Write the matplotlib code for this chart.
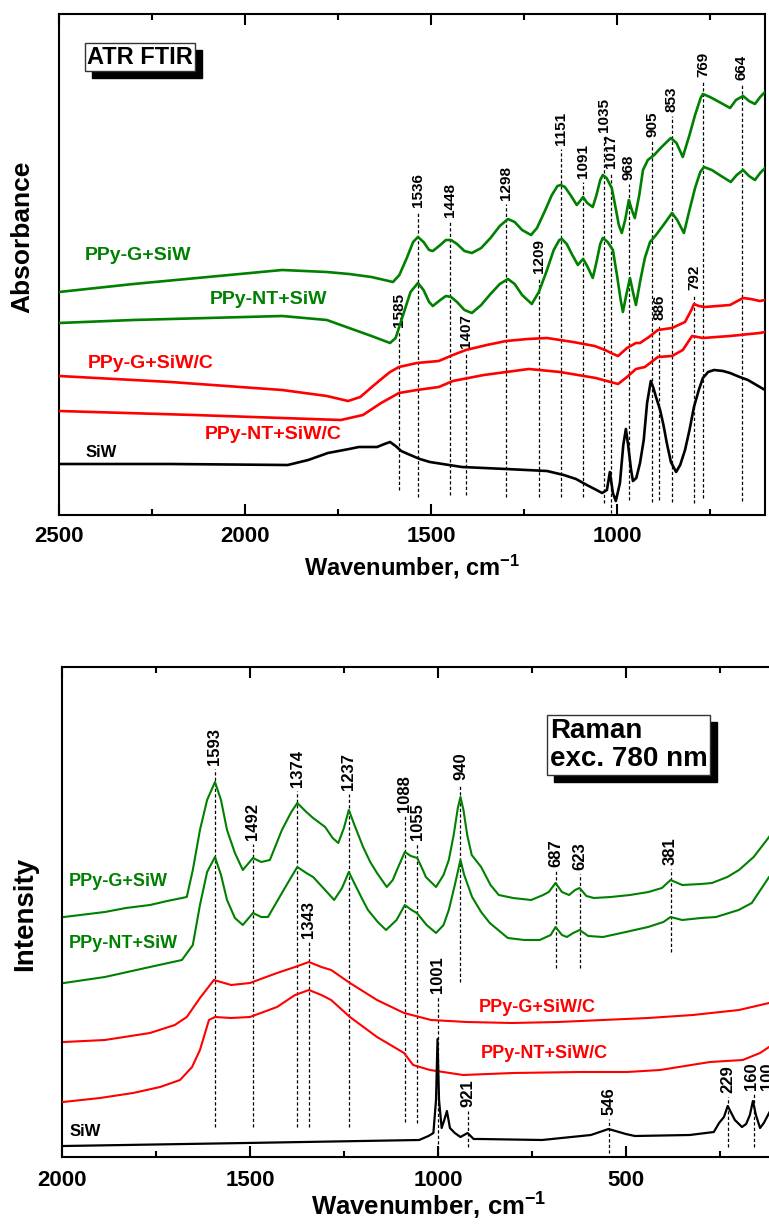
import matplotlib

matplotlib.use("Agg")
import matplotlib.pyplot as plt
from matplotlib.transforms import offset_copy

plt.rcParams["font.family"] = ["Liberation Sans", "DejaVu Sans"]
plt.rcParams["font.weight"] = "bold"
plt.rcParams["mathtext.fontset"] = "custom"
plt.rcParams["mathtext.rm"] = "Liberation Sans:bold"
plt.rcParams["mathtext.it"] = "Liberation Sans:bold"
plt.rcParams["mathtext.bf"] = "Liberation Sans:bold"

GREEN = "#008000"
RED = "#ff0000"

# ---- ATR FTIR spectra (wavenumber, absorbance in a.u. with offsets) ----
ir_g_wn = [2500, 2300, 2100, 1900, 1780, 1720, 1660, 1602, 1585, 1565, 1548, 1535, 1520, 1505, 1495,
           1475, 1460, 1446, 1430, 1410, 1390, 1365, 1340, 1315, 1293, 1275, 1255, 1231, 1215, 1195,
           1175, 1160, 1151, 1140, 1125, 1108, 1097, 1091, 1080, 1065, 1055, 1045, 1038, 1028, 1014,
           1005, 995, 987, 978, 968, 960, 952, 940, 930, 917, 900, 880, 855, 840, 823, 805, 790, 775,
           769, 750, 720, 696, 680, 661, 645, 629, 615, 602]
ir_g = [223, 231, 238, 245, 243, 241, 238, 233, 240, 257, 273, 278, 273, 265, 264,
        270, 275, 275, 271, 264, 262, 267, 277, 289, 296, 293, 285, 280, 287, 303,
        320, 329, 330, 328, 320, 310, 315, 318, 312, 308, 320, 335, 340, 337, 327,
        310, 290, 282, 295, 315, 305, 297, 320, 345, 355, 360, 368, 377, 372, 358, 380, 400, 417,
        421, 418, 412, 407, 415, 419, 414, 411, 418, 423]

ir_nt_wn = [2500, 2300, 2100, 1900, 1780, 1720, 1660, 1610, 1595, 1575, 1555, 1535, 1520, 1505, 1495,
            1475, 1460, 1446, 1430, 1410, 1390, 1365, 1340, 1315, 1293, 1275, 1255, 1229, 1210, 1190,
            1170, 1155, 1148, 1135, 1120, 1105, 1096, 1091, 1080, 1065, 1055, 1045, 1038, 1025, 1011,
            1000, 990, 984, 975, 965, 957, 949, 937, 925, 911, 895, 875, 852, 838, 820, 805, 790, 776,
            766, 745, 720, 694, 678, 661, 645, 629, 615, 602]
ir_nt = [192, 195, 197, 199, 195, 187, 179, 172, 177, 200, 223, 232, 225, 213, 209,
         215, 219, 218, 213, 205, 202, 210, 221, 231, 236, 231, 220, 211, 223, 243,
         265, 275, 276, 271, 260, 250, 254, 256, 249, 237, 253, 271, 277, 273, 265,
         240, 215, 203, 220, 237, 223, 210, 235, 257, 273, 280, 290, 302, 295, 282, 305, 327, 343,
         348, 345, 339, 333, 340, 345, 339, 335, 342, 347]

ir_gc_wn = [2500, 2200, 1900, 1780, 1723, 1690, 1659, 1630, 1610, 1586, 1538, 1479, 1441, 1406, 1350,
            1298, 1240, 1188, 1118, 1060, 1032, 1010, 997, 973, 949, 938, 914, 890, 852, 817, 800,
            793, 780, 764, 730, 696, 661, 640, 616, 602]
ir_gc = [139, 133, 125, 119, 114, 118, 128, 137, 143, 148, 152, 154, 160, 165, 170,
         174, 176, 177, 173, 169, 165, 161, 159, 167, 172, 172, 178, 185, 187, 193, 205,
         211, 209, 208, 209, 210, 217, 216, 214, 215]

ir_ntc_wn = [2500, 2137, 1742, 1683, 1634, 1586, 1538, 1479, 1441, 1358, 1237, 1153, 1057, 997, 973,
             949, 925, 890, 852, 823, 798, 769, 696, 616, 602]
ir_ntc = [104, 100, 95, 100, 112, 122, 125, 128, 134, 140, 146, 143, 137, 131, 138,
          146, 148, 158, 159, 165, 179, 177, 179, 182, 183]

ir_siw_wn = [2500, 2200, 1885, 1830, 1777, 1720, 1694, 1645, 1625, 1610, 1595, 1580, 1562, 1530, 1503,
             1417, 1298, 1188, 1143, 1110, 1081, 1055, 1040, 1027, 1019, 1011, 1003, 992, 983, 976,
             970, 962, 957, 948, 938, 928, 919, 909, 902, 895, 884, 875, 866, 855, 841, 830, 817,
             805, 793, 780, 769, 755, 739, 715, 696, 670, 648, 625, 602]
ir_siw = [51, 51, 50, 55, 62, 66, 68, 68, 71, 73, 69, 64, 61, 56, 53,
          48, 46, 44, 40, 36, 30, 25, 22, 25, 43, 22, 14, 32, 70, 86,
          70, 45, 34, 37, 52, 75, 112, 134, 127, 118, 105, 90, 72, 53, 43, 50, 65,
          85, 108, 125, 137, 143, 145, 144, 142, 138, 135, 130, 125]

ir_peaks = [1585, 1536, 1448, 1407, 1298, 1209, 1151, 1091, 1035, 1017, 968, 905, 886, 853, 792, 769, 664]
ir_peak_text_y = [188, 308, 298, 167, 315, 242, 370, 337, 383, 347, 335, 378, 195, 403, 225, 438, 435]
ir_peak_line_end = [25, 18, 20, 20, 18, 18, 18, 18, 12, 2, 15, 13, 15, 13, 12, 17, 14]

# ---- Raman spectra (Raman shift, intensity in a.u. with offsets) ----
ra_g_wn = [1995, 1886, 1830, 1766, 1720, 1668, 1652, 1633, 1614, 1593, 1577, 1561, 1540, 1519, 1492,
           1470, 1447, 1415, 1390, 1374, 1350, 1332, 1300, 1280, 1265, 1250, 1237, 1222, 1199, 1180,
           1162, 1136, 1120, 1109, 1088, 1072, 1055, 1040, 1032, 1005, 985, 971, 958, 947, 940, 932,
           922, 910, 885, 860, 838, 800, 752, 720, 705, 687, 670, 651, 635, 623, 605, 585, 540, 489,
           440, 404, 381, 350, 300, 271, 230, 199, 160, 119, 100]
ra_g = [240, 245, 249, 252, 256, 260, 287, 327, 357, 375, 357, 327, 304, 287, 299,
        295, 297, 327, 345, 354, 345, 339, 330, 319, 314, 329, 347, 332, 310, 295,
        284, 270, 277, 287, 305, 301, 299, 287, 280, 270, 282, 297, 322, 349, 360, 347,
        322, 302, 290, 272, 262, 259, 257, 262, 265, 274, 265, 262, 267, 269, 261, 259, 260, 262,
        265, 269, 277, 272, 273, 274, 280, 287, 300, 320, 332]

ra_nt_wn = [1995, 1886, 1766, 1681, 1652, 1633, 1614, 1593, 1577, 1561, 1540, 1519, 1492, 1470, 1452,
            1415, 1390, 1374, 1350, 1332, 1300, 1276, 1255, 1237, 1220, 1200, 1186, 1160, 1138, 1110,
            1088, 1070, 1056, 1030, 1005, 985, 971, 955, 940, 930, 909, 885, 862, 814, 770, 729, 700,
            687, 670, 657, 640, 623, 600, 561, 500, 441, 400, 381, 350, 300, 260, 200, 165, 119, 100]
ra_nt = [174, 180, 190, 197, 212, 252, 285, 300, 282, 257, 239, 232, 244, 240, 240,
         264, 280, 290, 284, 280, 267, 257, 269, 285, 272, 257, 247, 235, 227, 237,
         252, 247, 244, 232, 224, 232, 247, 272, 297, 282, 260, 245, 234, 219, 217, 217, 222,
         230, 222, 220, 224, 227, 221, 220, 225, 230, 235, 240, 237, 239, 240, 247, 254, 280, 287]

ra_gc_wn = [1995, 1886, 1766, 1700, 1668, 1633, 1596, 1550, 1500, 1428, 1380, 1343, 1310, 1284, 1234,
            1162, 1090, 1018, 923, 803, 681, 561, 441, 322, 199, 119, 100]
ra_gc = [115, 117, 124, 132, 140, 159, 177, 172, 174, 184, 190, 195, 190, 187, 174,
         157, 144, 137, 135, 134, 135, 137, 139, 142, 147, 154, 157]

ra_ntc_wn = [1997, 1899, 1811, 1739, 1686, 1654, 1633, 1609, 1593, 1550, 1500, 1428, 1380, 1343, 1310,
             1284, 1234, 1162, 1090, 1066, 1021, 933, 800, 622, 497, 409, 276, 189, 143, 119, 100]
ra_ntc = [55, 59, 64, 70, 77, 90, 107, 137, 140, 139, 140, 150, 162, 167, 162,
          157, 140, 120, 104, 92, 87, 82, 84, 85, 85, 87, 95, 97, 104, 110, 114]

ra_siw_wn = [1995, 1511, 1050, 1025, 1012, 1005, 1001, 997, 990, 983, 976, 968, 955, 940, 921,
             905, 888, 723, 593, 546, 500, 476, 330, 266, 252, 239, 229, 210, 191, 180, 170, 162,
             154, 143, 133, 119, 100, 85]
ra_siw = [11, 14, 17, 21, 24, 57, 118, 57, 29, 37, 46, 29, 24, 20, 24,
          18, 18, 17, 22, 28, 23, 21, 22, 25, 34, 40, 51, 37, 30, 33, 42, 56,
          42, 29, 34, 44, 57, 27]

ra_peaks = [1593, 1492, 1374, 1343, 1237, 1088, 1055, 1001, 940, 921, 687, 623, 381, 546, 229, 160, 100]
ra_peak_text_x = [1593, 1492, 1374, 1343, 1237, 1088, 1055, 1001, 940, 921, 687, 623, 381, 546, 229, 165, 122]
ra_peak_text_y = [392, 317, 370, 219, 367, 345, 317, 164, 377, 50, 290, 287, 292, 42, 64, 67, 67]
ra_peak_line_end = [30, 30, 30, 30, 30, 35, 34, 2, 175, 10, 189, 189, 205, 4, 10, 10, 10]


def peak_marks(ax, peaks, text_x, text_y, line_end, size):
    for wn, tx, ty, y0 in zip(peaks, text_x, text_y, line_end):
        ax.plot([wn, wn], [y0, ty - 4], color="black", lw=0.9, ls=(0, (2.6, 1.8)), zorder=1)
        ax.text(tx, ty, str(wn), rotation=90, ha="center", va="bottom",
                fontsize=size, fontweight="bold", zorder=1)


def shadow_box(fig, ax, x, y, text, size, linespacing=1.2):
    shift = offset_copy(ax.transData, fig=fig, x=7, y=-7, units="dots")
    ax.text(x, y, text, transform=shift, fontsize=size, fontweight="bold", color="black",
            va="center", ha="left", linespacing=linespacing, zorder=5,
            bbox=dict(boxstyle="square,pad=0.1", fc="black", ec="black", lw=1))
    ax.text(x, y, text, fontsize=size, fontweight="bold", color="black",
            va="center", ha="left", linespacing=linespacing, zorder=6,
            bbox=dict(boxstyle="square,pad=0.1", fc="white", ec="#333333", lw=1))


fig = plt.figure(figsize=(7.69, 12.25), dpi=100)
ax1 = fig.add_axes([59 / 769, 1 - 515 / 1225, 706 / 769, 501 / 1225])
ax2 = fig.add_axes([62 / 769, 1 - 1157 / 1225, 733 / 769, 490 / 1225])

# top panel: ATR FTIR
lw_ir = 1.9
ax1.plot(ir_g_wn, ir_g, color=GREEN, lw=lw_ir, zorder=3)
ax1.plot(ir_nt_wn, ir_nt, color=GREEN, lw=lw_ir, zorder=3)
ax1.plot(ir_gc_wn, ir_gc, color=RED, lw=lw_ir, zorder=3)
ax1.plot(ir_ntc_wn, ir_ntc, color=RED, lw=lw_ir, zorder=3)
ax1.plot(ir_siw_wn, ir_siw, color="black", lw=lw_ir, zorder=3)
peak_marks(ax1, ir_peaks, ir_peaks, ir_peak_text_y, ir_peak_line_end, 11)

ax1.text(2430, 259, "PPy-G+SiW", color=GREEN, fontsize=14, va="center")
ax1.text(2094, 215, "PPy-NT+SiW", color=GREEN, fontsize=14, va="center")
ax1.text(2422, 152, "PPy-G+SiW/C", color=RED, fontsize=14, va="center")
ax1.text(2108, 80, "PPy-NT+SiW/C", color=RED, fontsize=14, va="center")
ax1.text(2430, 62, "SiW", color="black", fontsize=12, va="center")
shadow_box(fig, ax1, 2425, 458, "ATR FTIR", 17)

ax1.set_xlim(2500, 602)
ax1.set_ylim(0, 501)
ax1.set_xticks([2500, 2000, 1500, 1000])
ax1.set_xticks([2250, 1750, 1250, 750], minor=True)

# bottom panel: Raman
lw_ra = 1.5
ax2.plot(ra_g_wn, ra_g, color=GREEN, lw=lw_ra, zorder=3)
ax2.plot(ra_nt_wn, ra_nt, color=GREEN, lw=lw_ra, zorder=3)
ax2.plot(ra_gc_wn, ra_gc, color=RED, lw=lw_ra, zorder=3)
ax2.plot(ra_ntc_wn, ra_ntc, color=RED, lw=lw_ra, zorder=3)
ax2.plot(ra_siw_wn, ra_siw, color="black", lw=1.6, zorder=3)
peak_marks(ax2, ra_peaks, ra_peak_text_x, ra_peak_text_y, ra_peak_line_end, 12)

ax2.text(1981, 275, "PPy-G+SiW", color=GREEN, fontsize=13, va="center")
ax2.text(1981, 214, "PPy-NT+SiW", color=GREEN, fontsize=13, va="center")
ax2.text(891, 150, "PPy-G+SiW/C", color=RED, fontsize=13, va="center")
ax2.text(885, 103, "PPy-NT+SiW/C", color=RED, fontsize=13, va="center")
ax2.text(1979, 25, "SiW", color="black", fontsize=12, va="center")
shadow_box(fig, ax2, 702, 412, "Raman\nexc. 780 nm", 20, linespacing=1.1)

ax2.set_xlim(2000, 50)
ax2.set_ylim(0, 490)
ax2.set_xticks([2000, 1500, 1000, 500])
ax2.set_xticks([1750, 1250, 750, 250], minor=True)

for ax, pad in ((ax1, 8), (ax2, 9)):
    ax.set_yticks([])
    for sp in ax.spines.values():
        sp.set_linewidth(1.5)
    ax.tick_params(axis="x", which="both", direction="in", top=True, width=1.5)
    ax.tick_params(axis="x", which="major", length=8, labelsize=16, pad=pad)
    ax.tick_params(axis="x", which="minor", length=4)
    for lab in ax.get_xticklabels():
        lab.set_fontweight("bold")

ax1.set_xlabel("Wavenumber, cm$^{-1}$", fontsize=17, fontweight="bold", labelpad=4)
ax2.set_xlabel("Wavenumber, cm$^{-1}$", fontsize=18.5, fontweight="bold", labelpad=0)

fig.text(22 / 769, 1 - 237 / 1225, "Absorbance", rotation=90, fontsize=19,
         fontweight="bold", ha="center", va="center")
fig.text(25 / 769, 1 - 914 / 1225, "Intensity", rotation=90, fontsize=20,
         fontweight="bold", ha="center", va="center")

fig.savefig("out.png", dpi=100)
